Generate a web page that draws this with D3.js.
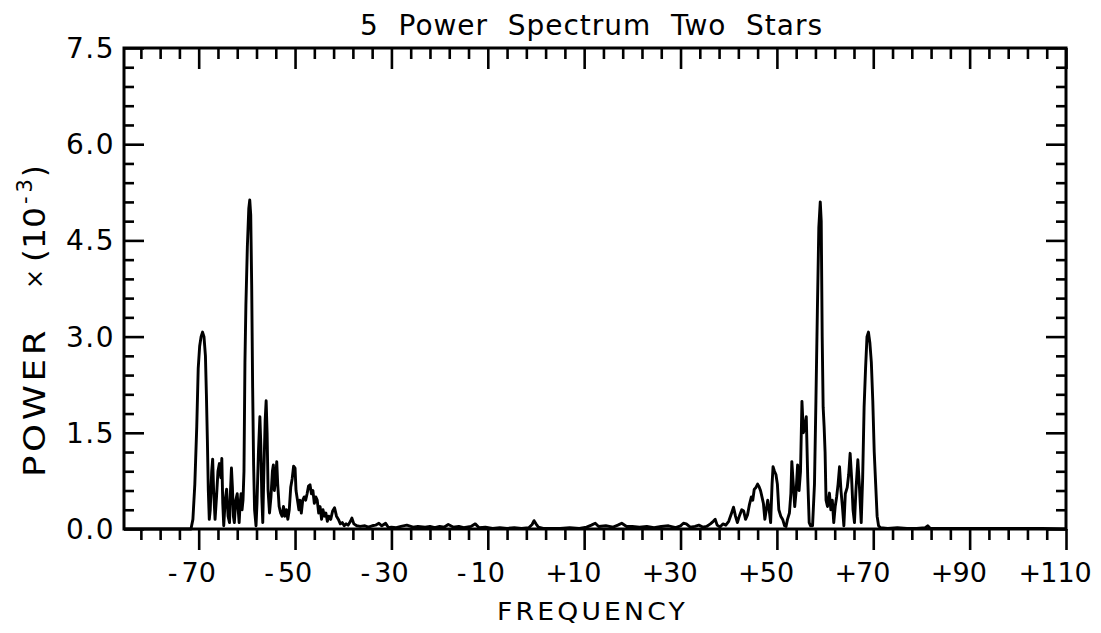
<!DOCTYPE html>
<html>
<head>
<meta charset="utf-8">
<script src="https://cdn.jsdelivr.net/npm/d3@7"></script>
<style>
    html, body { margin: 0; padding: 0; background: #fff; }
    svg { display: block; }
    text { font-family: "DejaVu Sans", sans-serif; fill: #000; }
</style>
</head>
<body>
<div id="chart"></div>
<script>
// ===================================
// DATA
// [frequency, power x 1e-3]
// ===================================

// negative-frequency band, from the left edge up to about -30
const leftBand = [
    [-85.5, 0], [-71.6, 0], [-71.2, 0.15], [-70.8, 0.7], [-70.4, 1.6], [-70.1, 2.5],
    [-69.8, 2.85], [-69.5, 3.0], [-69.2, 3.07], [-68.9, 3.0], [-68.6, 2.7], [-68.4, 2.1],
    [-68.2, 1.4], [-68.0, 0.6], [-67.8, 0.15], [-67.6, 0.3], [-67.3, 0.9], [-67.1, 1.09],
    [-66.9, 0.6], [-66.6, 0.15], [-66.3, 0.5], [-66.0, 0.9], [-65.7, 1.02], [-65.4, 0.8],
    [-65.2, 1.1], [-65.0, 0.4], [-64.8, 0.05], [-64.5, 0.45], [-64.2, 0.62], [-63.9, 0.2],
    [-63.6, 0.1], [-63.4, 0.6], [-63.2, 0.95], [-63.0, 0.65], [-62.8, 0.2], [-62.6, 0.1],
    [-62.3, 0.45], [-62.0, 0.55], [-61.8, 0.3], [-61.6, 0.1], [-61.4, 0.4], [-61.2, 0.55],
    [-61.0, 0.3], [-60.8, 0.45], [-60.6, 0.9], [-60.4, 2.6], [-60.2, 3.5], [-59.9, 4.4],
    [-59.6, 5.0], [-59.4, 5.13], [-59.2, 4.9], [-59.0, 3.8], [-58.8, 2.2], [-58.6, 1.0],
    [-58.4, 0.3], [-58.1, 0.05], [-57.9, 0.4], [-57.6, 1.2], [-57.3, 1.75], [-57.1, 1.3],
    [-56.9, 0.5], [-56.7, 0.1], [-56.5, 0.8], [-56.2, 1.7], [-56.0, 2.0], [-55.8, 1.5],
    [-55.6, 0.6], [-55.3, 0.25], [-55.0, 0.5], [-54.7, 0.9], [-54.5, 1.0], [-54.3, 0.6],
    [-54.0, 0.8], [-53.8, 1.05], [-53.6, 0.7], [-53.3, 0.35], [-53.0, 0.25], [-52.7, 0.2],
    [-52.4, 0.35], [-52.1, 0.2], [-51.8, 0.3], [-51.5, 0.15], [-51.2, 0.3], [-50.9, 0.65],
    [-50.6, 0.78], [-50.3, 0.98], [-50.0, 0.95], [-49.8, 0.6], [-49.5, 0.45], [-49.2, 0.3],
    [-49.0, 0.45], [-48.7, 0.25], [-48.4, 0.45], [-48.1, 0.5], [-47.8, 0.45], [-47.5, 0.55],
    [-47.2, 0.67], [-46.9, 0.69], [-46.6, 0.55], [-46.3, 0.6], [-46.0, 0.4], [-45.7, 0.5],
    [-45.4, 0.45], [-45.1, 0.25], [-44.8, 0.35], [-44.5, 0.15], [-44.2, 0.3], [-43.9, 0.2],
    [-43.6, 0.25], [-43.3, 0.12], [-43.0, 0.2], [-42.6, 0.15], [-42.2, 0.28], [-41.8, 0.33],
    [-41.4, 0.2], [-41.0, 0.15], [-40.6, 0.08], [-40.2, 0.1], [-39.8, 0.05], [-39.4, 0.08],
    [-39.0, 0.06], [-38.5, 0.12], [-38.2, 0.17], [-37.8, 0.08], [-37.2, 0.05], [-36.5, 0.04],
    [-35.5, 0.05], [-34.8, 0.03], [-34.0, 0.05], [-33.3, 0.06], [-32.6, 0.09], [-32.0, 0.05],
    [-31.2, 0.09], [-30.6, 0.02]
];

// low noise floor around zero frequency
const midNoise = [
    [-30.0, 0.03], [-29.0, 0.02], [-28.0, 0.04], [-26.8, 0.06], [-25.5, 0.03], [-24.5, 0.04],
    [-23.0, 0.03], [-22.0, 0.04], [-21.0, 0.02], [-20.0, 0.04], [-19.0, 0.03], [-18.2, 0.07],
    [-17.2, 0.03], [-16.0, 0.04], [-15.0, 0.02], [-13.5, 0.04], [-12.6, 0.08], [-11.8, 0.02],
    [-10.5, 0.03], [-9.0, 0.01], [-7.5, 0.02], [-6.0, 0.01], [-4.5, 0.02], [-3.0, 0.01],
    [-1.5, 0.02], [-0.8, 0.07], [-0.4, 0.13], [0.0, 0.08], [0.5, 0.03], [1.5, 0.01],
    [3.0, 0.01], [5.0, 0.01], [7.0, 0.02], [9.0, 0.01], [10.5, 0.03], [11.5, 0.06],
    [12.3, 0.09], [13.0, 0.04], [14.5, 0.05], [16.0, 0.03], [17.0, 0.06], [17.8, 0.09],
    [18.8, 0.04], [20.0, 0.04], [21.5, 0.03], [23.0, 0.04], [24.5, 0.02], [26.0, 0.04],
    [27.5, 0.05], [29.0, 0.02], [30.0, 0.05], [30.6, 0.09], [31.2, 0.08], [32.0, 0.03],
    [33.0, 0.04]
];

// positive-frequency band, from about +34 to the right edge
const rightBand = [
    [33.8, 0.06], [34.6, 0.03], [35.4, 0.04], [36.2, 0.08], [36.8, 0.12], [37.2, 0.15],
    [37.6, 0.06], [38.2, 0.03], [38.8, 0.08], [39.4, 0.06], [40.0, 0.12], [40.6, 0.25],
    [41.0, 0.34], [41.4, 0.2], [41.8, 0.1], [42.2, 0.2], [42.7, 0.3], [43.1, 0.28],
    [43.5, 0.15], [43.9, 0.22], [44.3, 0.38], [44.7, 0.5], [45.0, 0.45], [45.3, 0.62],
    [45.6, 0.64], [46.0, 0.7], [46.3, 0.66], [46.6, 0.6], [46.9, 0.5], [47.2, 0.4],
    [47.5, 0.15], [47.8, 0.3], [48.1, 0.45], [48.4, 0.3], [48.7, 0.1], [49.0, 0.7],
    [49.2, 0.97], [49.5, 0.9], [49.8, 0.85], [50.1, 0.7], [50.4, 0.3], [50.8, 0.2],
    [51.2, 0.15], [51.6, 0.05], [51.9, 0.04], [52.2, 0.15], [52.6, 0.25], [52.9, 0.55],
    [53.1, 1.05], [53.4, 0.7], [53.7, 0.35], [54.0, 0.6], [54.3, 1.0], [54.6, 0.6],
    [54.9, 0.9], [55.2, 1.99], [55.5, 1.5], [55.8, 1.6], [56.1, 1.75], [56.4, 0.8],
    [56.7, 0.1], [57.0, 0.05], [57.4, 0.05], [57.8, 0.7], [58.1, 2.0], [58.4, 3.4],
    [58.7, 4.7], [59.0, 5.1], [59.2, 4.8], [59.4, 3.0], [59.6, 1.9], [59.8, 1.6],
    [60.0, 1.2], [60.2, 0.45], [60.5, 0.35], [60.9, 0.56], [61.2, 0.3], [61.5, 0.45],
    [61.8, 0.1], [62.1, 0.35], [62.4, 0.5], [62.7, 0.7], [63.0, 0.97], [63.3, 0.6],
    [63.6, 0.35], [63.9, 0.05], [64.2, 0.55], [64.6, 0.65], [64.9, 0.85], [65.2, 1.18],
    [65.5, 0.8], [65.8, 0.3], [66.1, 0.1], [66.4, 0.6], [66.8, 1.08], [67.1, 0.7],
    [67.5, 0.1], [67.8, 0.8], [68.1, 1.9], [68.4, 2.5], [68.7, 3.0], [69.0, 3.07],
    [69.3, 2.9], [69.6, 2.6], [69.9, 2.0], [70.2, 1.2], [70.5, 0.7], [70.8, 0.2],
    [71.1, 0.05], [71.5, 0.02], [73.0, 0.01], [75.0, 0.02], [77.0, 0.01], [79.0, 0.01],
    [80.8, 0.02], [81.3, 0.05], [81.8, 0.01], [85.0, 0.01], [90.0, 0.01], [95.0, 0.01],
    [100.0, 0.01], [105.0, 0.01], [110.0, 0.0]
];

// axis ranges and ticks
const xDomain = [-85.5, 110];
const yDomain = [0, 7.5];
const xMajorTicks = [-70, -50, -30, -10, 10, 30, 50, 70, 90, 110];
const xMinorTicks = [-82, -78, -74, -66, -62, -58, -54, -46, -42, -38, -34, -26, -22, -18, -14,
    -6, -2, 2, 6, 14, 18, 22, 26, 34, 38, 42, 46, 54, 58, 62, 66, 74, 78, 82, 86, 94, 98, 102, 106];
const yMajorTicks = [0, 1.5, 3.0, 4.5, 6.0, 7.5];
const yMinorTicks = [0.3, 0.6, 0.9, 1.2, 1.8, 2.1, 2.4, 2.7, 3.3, 3.6, 3.9, 4.2, 4.8, 5.1, 5.4,
    5.7, 6.3, 6.6, 6.9, 7.2];

const titleText = "5  Power  Spectrum  Two  Stars";
const xLabelText = "FREQUENCY";

(function() {
    const W = 1101, H = 633;
    const plot = { left: 124, right: 1066, top: 48, bottom: 529 };

    const svg = d3.select("#chart").append("svg")
        .attr("width", W)
        .attr("height", H)
        .attr("viewBox", `0 0 ${W} ${H}`);

    const x = d3.scaleLinear().domain(xDomain).range([plot.left, plot.right]);
    const y = d3.scaleLinear().domain(yDomain).range([plot.bottom, plot.top]);

    // ===================================
    // SPECTRUM TRACE
    // ===================================
    const spectrum = leftBand.concat(midNoise, rightBand);

    const line = d3.line()
        .x(d => x(d[0]))
        .y(d => y(d[1]));

    svg.append("path")
        .datum(spectrum)
        .attr("d", line)
        .attr("fill", "none")
        .attr("stroke", "#000")
        .attr("stroke-width", 2.9)
        .attr("stroke-linejoin", "round");

    // ===================================
    // FRAME + TICKS (all inward except the bottom)
    // ===================================
    function tickGroup(axis, tx, ty) {
        const g = svg.append("g")
            .attr("transform", `translate(${tx},${ty})`)
            .call(axis);
        g.select(".domain").remove();
        g.selectAll("line").attr("stroke", "#000").attr("stroke-width", 2.6);
        g.selectAll("text").remove();
        return g;
    }

    // bottom: outward
    tickGroup(d3.axisBottom(x).tickValues(xMinorTicks).tickSize(11), 0, plot.bottom);
    tickGroup(d3.axisBottom(x).tickValues(xMajorTicks).tickSize(21), 0, plot.bottom);
    // top: pointing down into the plot
    tickGroup(d3.axisBottom(x).tickValues(xMinorTicks).tickSize(11), 0, plot.top);
    tickGroup(d3.axisBottom(x).tickValues(xMajorTicks).tickSize(21), 0, plot.top);
    // left: pointing right
    tickGroup(d3.axisRight(y).tickValues(yMinorTicks).tickSize(10), plot.left, 0);
    tickGroup(d3.axisRight(y).tickValues(yMajorTicks).tickSize(20), plot.left, 0);
    // right: pointing left
    tickGroup(d3.axisLeft(y).tickValues(yMinorTicks).tickSize(10), plot.right, 0);
    tickGroup(d3.axisLeft(y).tickValues(yMajorTicks).tickSize(20), plot.right, 0);

    svg.append("rect")
        .attr("x", plot.left)
        .attr("y", plot.top)
        .attr("width", plot.right - plot.left)
        .attr("height", plot.bottom - plot.top)
        .attr("fill", "none")
        .attr("stroke", "#000")
        .attr("stroke-width", 3);

    // ===================================
    // TICK LABELS
    // ===================================
    svg.append("g").selectAll("text")
        .data(yMajorTicks)
        .join("text")
        .attr("x", plot.left - 9)
        .attr("y", d => y(d))
        .attr("dy", "0.36em")
        .attr("text-anchor", "end")
        .attr("font-size", "28px")
        .attr("letter-spacing", "1.5px")
        .text(d => d3.format(".1f")(d));

    // x labels: digits centred on the tick, sign hanging to the left
    const xLab = svg.append("g").selectAll("g")
        .data(xMajorTicks)
        .join("g")
        .attr("transform", d => `translate(${x(d)},582)`);

    xLab.append("text")
        .attr("class", "digits")
        .attr("text-anchor", "middle")
        .attr("font-size", "27px")
        .text(d => String(Math.abs(d)));

    xLab.each(function(d) {
        const gg = d3.select(this);
        const w = gg.select(".digits").node().getComputedTextLength();
        gg.append("text")
            .attr("x", -w / 2 + (d < 0 ? -4 : 1))
            .attr("text-anchor", "end")
            .attr("font-size", "27px")
            .text(d < 0 ? "-" : "+");
    });

    // ===================================
    // TITLES
    // ===================================
    svg.append("text")
        .attr("x", 360)
        .attr("y", 35)
        .attr("font-size", "28px")
        .attr("textLength", 462)
        .attr("lengthAdjust", "spacing")
        .style("white-space", "pre")
        .text(titleText);

    svg.append("text")
        .attr("x", 497)
        .attr("y", 620)
        .attr("font-size", "25px")
        .attr("letter-spacing", "3px")
        .attr("textLength", 191)
        .attr("lengthAdjust", "spacingAndGlyphs")
        .text(xLabelText);

    // y label: POWER × (10^-3), rotated; wide plotter-style capitals
    const yLab = svg.append("g")
        .attr("transform", "translate(45,0) rotate(-90)")
        .attr("font-size", "30px");
    yLab.append("text").attr("x", -477).attr("letter-spacing", "3px").attr("textLength", 150)
        .attr("lengthAdjust", "spacingAndGlyphs").text("POWER");
    yLab.append("text").attr("x", -289).attr("y", -2).attr("font-size", "24px").text("×");
    yLab.append("text").attr("x", -262).attr("textLength", 55)
        .attr("lengthAdjust", "spacingAndGlyphs").text("(10");
    yLab.append("text").attr("x", -204).attr("y", -13).attr("font-size", "21px")
        .attr("textLength", 25).attr("lengthAdjust", "spacing").text("-3");
    yLab.append("text").attr("x", -177).text(")");
})();
</script>
</body>
</html>
